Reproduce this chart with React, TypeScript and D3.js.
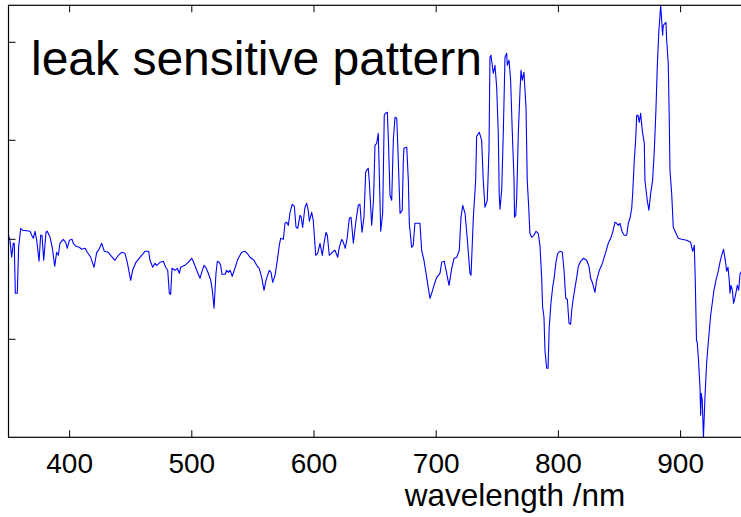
import React from "react";
import * as d3 from "d3";

const W = 741;
const H = 517;

const title = "leak sensitive pattern";
const xLabel = "wavelength /nm";
const xTicks = [400, 500, 600, 700, 800, 900];
const yTicks = [98, 198, 297, 395];

const wavelength = [
  350.0, 351.2, 352.6, 353.9, 354.7, 355.6, 357.2, 358.3, 360.0, 361.6, 367.6, 369.0, 370.3, 371.7, 373.1, 375.0,
  376.3, 377.4, 378.8, 380.7, 381.7, 384.0, 385.8, 387.8, 389.4, 390.8, 392.1, 394.8, 396.8, 398.1, 399.8, 402.0,
  403.0, 405.2, 407.9, 409.9, 412.6, 414.5, 417.3, 420.0, 422.2, 424.1, 426.3, 428.4, 431.7, 433.6, 437.1, 439.9,
  442.6, 445.3, 447.2, 450.0, 451.6, 454.3, 457.6, 461.7, 464.7, 465.8, 468.0, 469.9, 471.3, 474.0, 476.7, 478.6,
  480.3, 481.6, 482.7, 483.8, 486.2, 488.1, 489.8, 490.9, 494.4, 497.1, 499.9, 501.2, 504.0, 506.7, 508.1, 510.0,
  511.4, 513.5, 515.5, 516.8, 518.2, 519.8, 520.9, 522.5, 523.6, 524.7, 527.4, 528.5, 529.9, 531.3, 533.1, 535.3,
  537.6, 540.8, 543.5, 545.4, 547.6, 550.9, 553.1, 555.2, 557.2, 559.1, 560.7, 563.4, 564.8, 566.2, 568.1, 570.0,
  571.6, 572.7, 574.9, 576.3, 577.6, 579.0, 580.4, 582.2, 583.9, 585.3, 586.7, 588.5, 589.4, 590.7, 592.6, 594.0,
  595.3, 596.2, 598.1, 599.4, 601.4, 603.0, 604.9, 606.8, 608.2, 609.8, 610.9, 612.5, 615.8, 617.2, 619.4, 620.7,
  622.7, 624.0, 625.6, 627.2, 628.9, 630.3, 632.2, 634.4, 636.2, 637.6, 639.3, 640.9,
  642.3, 643.1, 644.4, 645.2, 647.2, 648.7, 649.9, 651.3, 652.6, 654.6, 656.2, 657.5, 658.5, 660.0, 660.9, 662.2,
  663.6, 664.9, 666.3, 667.7, 668.7, 670.4, 672.2, 673.1, 673.6, 675.9, 677.2, 678.0, 679.9, 681.2, 682.6, 686.7,
  688.1, 690.0, 692.2, 694.9, 696.3, 698.2, 700.4, 703.1, 704.5, 706.6, 708.6, 710.5, 712.7, 714.6, 716.8, 718.9,
  720.3, 721.7, 723.6, 725.4, 727.6, 728.5, 730.4, 732.3, 733.1, 735.3, 737.2, 738.5, 739.9, 741.8, 743.2, 744.0,
  744.8, 746.7, 748.1, 749.5, 750.8, 751.6, 752.2, 753.6, 754.9, 756.3, 757.7, 758.2, 759.6, 760.9, 762.3, 763.7,
  764.1, 765.1, 765.9, 767.2, 768.6, 769.4, 770.4, 771.8, 773.5, 774.5, 775.7, 776.7, 778.1, 780.0, 781.7, 783.5,
  784.9, 786.3, 787.1, 788.2, 789.0, 790.4, 791.5, 792.5, 793.9, 795.3, 796.6, 798.0, 799.4, 801.3, 803.2, 804.6,
  806.0, 807.3, 808.7, 810.0, 810.9, 812.2, 813.6, 815.0, 816.3, 818.2, 820.4, 823.1, 825.0, 826.4, 828.0, 829.9,
  831.3, 833.5, 835.4, 836.7, 838.7, 840.8, 842.8, 844.4, 846.3, 847.7, 849.0, 850.4, 852.3, 853.9, 855.9, 857.2,
  858.6, 860.0, 860.8, 862.1, 863.2, 864.1, 865.1, 866.2, 867.3, 868.6, 870.3, 870.8, 872.7, 874.1, 875.5, 877.1,
  878.5, 879.8, 880.9, 882.1, 883.7, 884.5, 885.3, 885.8, 888.0, 888.6, 889.9, 890.7, 891.3, 892.7, 894.0, 896.2,
  898.1, 900.9, 905.0, 908.2, 909.9, 911.2, 912.0, 913.0, 913.6, 914.5, 915.9, 916.4, 916.9, 917.7, 918.7, 919.9,
  921.3, 922.6, 924.6, 925.9, 927.3, 928.9, 930.6, 932.2, 933.6, 935.1, 936.6, 937.7, 938.8, 939.8, 940.4, 941.2,
  942.4, 943.3, 944.9, 946.4, 947.5, 948.6, 950.2,
];

const intensity = [
  202, 197, 180, 194, 194, 144, 144, 190, 209, 207, 206, 202, 199, 206, 197, 176,
  202, 202, 177, 205, 206, 200, 190, 171, 185, 182, 194, 198, 195, 189, 197, 198,
  194, 191, 190, 188, 189, 185, 180, 170, 185, 188, 194, 186, 185, 182, 177, 182,
  185, 184, 175, 157, 167, 175, 180, 186, 186, 177, 170, 174, 172, 175, 176, 170,
  167, 144, 143, 169, 167, 169, 164, 170, 172, 175, 179, 176, 167, 159, 165, 172,
  170, 164, 157, 147, 129, 164, 176, 175, 172, 163, 163, 167, 165, 167, 161, 169,
  178, 185, 186, 184, 180, 177, 172, 169, 160, 147, 157, 167, 165, 155, 162, 177,
  192, 199, 198, 214, 215, 212, 225, 233, 231, 210, 209, 222, 221, 210, 230, 234,
  227, 216, 225, 217, 182, 184, 194, 182, 194, 205, 202, 182, 186, 187, 180, 190,
  198, 195, 189, 200, 219, 220, 194, 217, 232, 233, 205, 220,
  265, 267, 269, 257, 212, 237, 292, 294, 304, 206, 224, 322, 324, 325, 297, 242,
  237, 297, 320, 319, 287, 224, 227, 277, 289, 290, 257, 214, 190, 192, 214, 214,
  187, 177, 160, 139, 144, 152, 160, 164, 175, 176, 164, 152, 169, 179, 180, 187,
  220, 232, 224, 199, 164, 162, 220, 257, 301, 305, 297, 257, 230, 237, 287, 380,
  382, 364, 372, 350, 304, 242, 228, 247, 304, 380, 384, 372, 377, 357, 304, 257,
  220, 222, 240, 304, 347, 367, 357, 365, 330, 257, 230, 204, 200, 202, 206, 204,
  192, 160, 130, 120, 87, 69, 69, 110, 134, 150, 160, 175, 184, 186, 185, 167,
  139, 138, 114, 113, 127, 139, 150, 160, 171, 176, 179, 177, 171, 159, 154, 145,
  157, 167, 172, 177, 185, 194, 199, 205, 215, 214, 212, 214, 205, 202, 202, 214,
  219, 229, 244, 277, 297, 322, 322, 315, 324, 307, 294, 257, 237, 227, 244, 257,
  287, 327, 370, 404, 432, 417, 402, 412, 415, 397, 374, 320, 267, 244, 210, 204,
  199, 198, 197, 195, 186, 192, 157, 97, 95, 80, 49, 22, 44, 37, 0, 39,
  74, 94, 122, 134, 147, 157, 165, 175, 182, 188, 177, 166, 170, 157, 144, 152,
  147, 134, 142, 152, 147, 163, 167,
];

const FONT = "'Liberation Sans', Arial, Helvetica, sans-serif";

export default function App() {
  const left = 8.5;
  const right = 741.7;
  const top = 5.3;
  const bottom = 437.3;

  const x = d3.scaleLinear().domain([350, 950]).range([left, right]);
  const y = d3.scaleLinear().domain([0, 432]).range([bottom, top]);

  const pts: [number, number][] = wavelength.map((w, i) => [w, intensity[i]]);
  const line = d3
    .line<[number, number]>()
    .x((d) => x(d[0]))
    .y((d) => y(d[1]));

  const tickLen = 7;

  return (
    <svg
      width={W}
      height={H}
      style={{ position: "absolute", left: 0, top: 0, background: "#fff" }}
      fontFamily={FONT}
    >
      <rect x={0} y={0} width={W} height={H} fill="#fff" />
      <defs>
        <clipPath id="plotclip">
          <rect x={left} y={top - 1} width={right - left} height={bottom - top + 2} />
        </clipPath>
      </defs>
      <path
        d={line(pts) || ""}
        fill="none"
        stroke="#0000ff"
        strokeWidth={1.1}
        strokeLinejoin="round"
        clipPath="url(#plotclip)"
      />
      <rect
        x={left}
        y={top}
        width={right - left}
        height={bottom - top}
        fill="none"
        stroke="#000"
        strokeWidth={1.2}
      />
      {xTicks.map((t) => (
        <g key={"xt" + t}>
          <line x1={x(t)} x2={x(t)} y1={bottom} y2={bottom - tickLen} stroke="#000" strokeWidth={1} />
          <line x1={x(t)} x2={x(t)} y1={top} y2={top + tickLen} stroke="#000" strokeWidth={1} />
          <text x={x(t)} y={473} textAnchor="middle" fontSize={28} fill="#000">
            {t}
          </text>
        </g>
      ))}
      {yTicks.map((t) => (
        <g key={"yt" + t}>
          <line x1={left} x2={left + tickLen} y1={y(t)} y2={y(t)} stroke="#000" strokeWidth={1} />
        </g>
      ))}
      <text x={515} y={506} textAnchor="middle" fontSize={31.5} fill="#000">
        {xLabel}
      </text>
      <text x={31} y={75} fontSize={48} fill="#000">
        {title}
      </text>
    </svg>
  );
}
